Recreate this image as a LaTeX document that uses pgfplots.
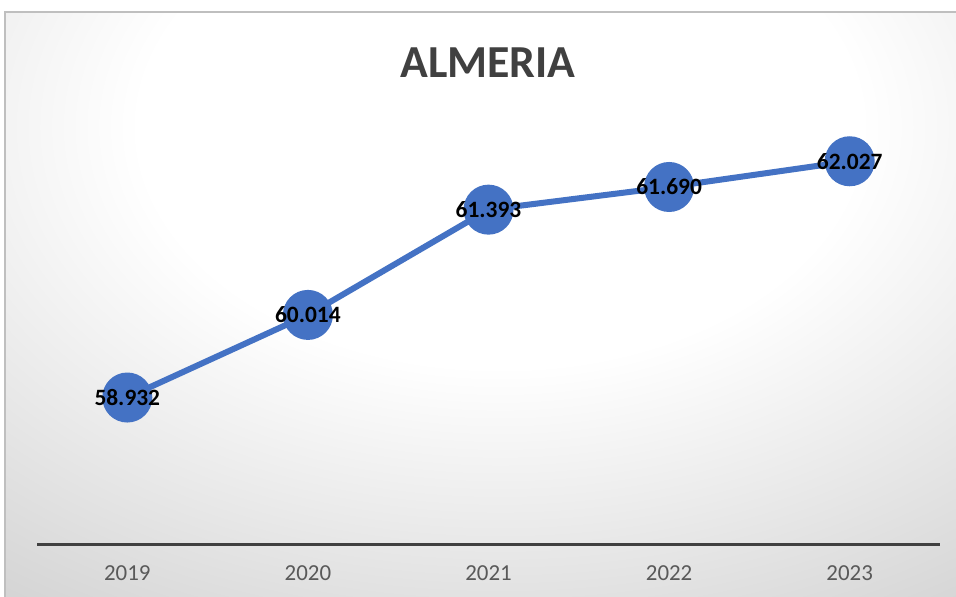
\documentclass[border=0pt]{standalone}
\usepackage{pgfplots}
\pgfplotsset{compat=1.18}
\usepackage{fontspec}
\setmainfont{Carlito}
\definecolor{lineblue}{HTML}{4472C4}
\pgfdeclareradialshading{bgshade}{\pgfpoint{0bp}{0bp}}{color(0bp)=(white); color(10bp)=(white); color(25bp)=(black!18); color(50bp)=(black!22)}
\pgfplotstableread{
x y lab
0 58.932 58.932
1 60.014 60.014
2 61.393 61.393
3 61.690 61.690
4 62.027 62.027
}\almeria
\begin{document}
\begin{tikzpicture}[x=1bp,y=1bp]
\useasboundingbox (0,0) rectangle (956,597);
\begin{scope}
\clip (0,0) rectangle (956,597);
\fill[white] (0,0) rectangle (956,597);
\begin{scope}
\clip (5,-10) rectangle (970,585);
\fill[black!18] (5,-10) rectangle (970,585);
\shade[shading=bgshade] (500,470) ellipse (900 and 600);
\end{scope}
\draw[black!25, line width=1.5bp] (5,-10) -- (5,585) -- (970,585);
\end{scope}
\node[font=\bfseries\fontsize{46}{46}\selectfont, text=black!75] at (488,534) {ALMERIA};
\begin{axis}[
  at={(37bp,52bp)}, anchor=south west,
  scale only axis, width=903bp, height=458bp,
  xmin=-0.5, xmax=4.5, ymin=57, ymax=63,
  hide y axis,
  axis x line*=bottom,
  x axis line style={black!75, line width=3bp, -},
  xtick={0,1,2,3,4},
  xticklabels={2019,2020,2021,2022,2023},
  major tick length=0pt,
  xticklabel style={font=\fontsize{23}{23}\selectfont, text=black!65, yshift=-17bp},
  clip=false,
]
\addplot[lineblue, line width=6bp, mark=*, mark size=22bp,
  mark options={fill=lineblue, draw=none},
  nodes near coords, point meta=explicit symbolic,
  every node near coord/.append style={anchor=center, font=\bfseries\fontsize{23.5}{23.5}\selectfont, text=black}]
  table[x=x, y=y, meta=lab] {\almeria};
\end{axis}
\end{tikzpicture}
\end{document}
